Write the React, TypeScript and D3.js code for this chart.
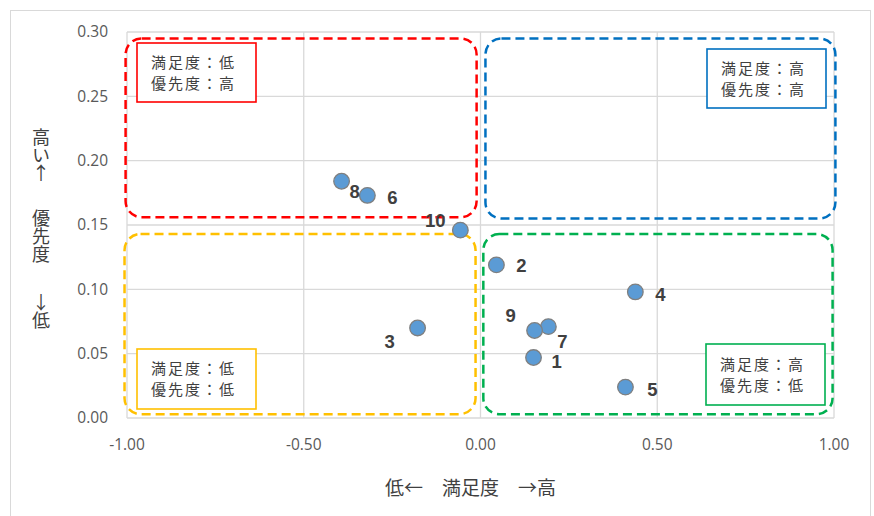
import React from 'react';
import { scaleLinear } from 'd3';

// 項目ごとの満足度(x)と優先度(y)
const ids = [1, 2, 3, 4, 5, 6, 7, 8, 9, 10];
const satisfaction = [0.15, 0.045, -0.178, 0.438, 0.41, -0.32, 0.192, -0.393, 0.153, -0.057];
const priority = [0.047, 0.119, 0.07, 0.098, 0.024, 0.173, 0.071, 0.184, 0.068, 0.146];

const xTicks = [-1, -0.5, 0, 0.5, 1];
const yTicks = [0, 0.05, 0.1, 0.15, 0.2, 0.25, 0.3];

// 象限の枠 (データ座標)
const quadrants = [
  { name: 'lowHigh', x0: -1.004, x1: -0.011, y0: 0.156, y1: 0.295, color: '#FF0000' },
  { name: 'highHigh', x0: 0.014, x1: 1.004, y0: 0.155, y1: 0.295, color: '#0070C0' },
  { name: 'lowLow', x0: -1.007, x1: -0.014, y0: 0.003, y1: 0.143, color: '#FFC000' },
  { name: 'highLow', x0: 0.008, x1: 0.996, y0: 0.003, y1: 0.143, color: '#00B050' },
];

const quadrantNotes = [
  { lines: ['満足度：低', '優先度：高'], color: '#FF0000', box: [137, 43, 256, 102] },
  { lines: ['満足度：高', '優先度：高'], color: '#0070C0', box: [707, 49, 826, 108] },
  { lines: ['満足度：低', '優先度：低'], color: '#FFC000', box: [137, 349, 256, 409] },
  { lines: ['満足度：高', '優先度：低'], color: '#00B050', box: [706, 344, 825, 405] },
];

// ラベルの位置 (点からのずれ, px)
const labelOffset: Record<number, [number, number]> = {
  1: [23, 4],
  2: [25, 1],
  3: [-28, 14],
  4: [25, 3],
  5: [27, 2],
  6: [25, 2],
  7: [14, 15],
  8: [13, 10],
  9: [-24, -15],
  10: [-25, -10],
};

const W = 874;
const H = 516;
const margin = { left: 127, right: 40, top: 32, bottom: 98 };

export default function App() {
  const x = scaleLinear().domain([-1, 1]).range([margin.left, W - margin.right]);
  const y = scaleLinear().domain([0, 0.3]).range([H - margin.bottom, margin.top]);

  const tickFont = '"Open Sans", "Noto Sans", sans-serif';
  const jpFont = '"Noto Sans CJK JP", sans-serif';
  const vertical = { writingMode: 'vertical-rl', textOrientation: 'upright' } as React.CSSProperties;

  return (
    <svg width={W} height={H} style={{ position: 'fixed', left: 0, top: 0, background: '#fff' }}>
      <rect x={10.5} y={10.5} width={860} height={520} fill="#fff" stroke="#d9d9d9" />

      {/* グリッド */}
      {yTicks.map((t) => (
        <line key={'gy' + t} x1={x(-1)} x2={x(1)} y1={y(t)} y2={y(t)} stroke="#d9d9d9" strokeWidth={1.3} />
      ))}
      {xTicks.map((t) => (
        <line key={'gx' + t} x1={x(t)} x2={x(t)} y1={y(0)} y2={y(0.3)} stroke="#d9d9d9" strokeWidth={1.3} />
      ))}

      {/* 目盛りラベル */}
      {yTicks.map((t) => (
        <text key={'ty' + t} x={x(-1) - 19} y={y(t)} dy="0.35em" textAnchor="end"
          fontFamily={tickFont} fontSize={15.5} fill="#595959">
          {t.toFixed(2)}
        </text>
      ))}
      {xTicks.map((t) => (
        <text key={'tx' + t} x={x(t)} y={y(0) + 27} dy="0.35em" textAnchor="middle"
          fontFamily={tickFont} fontSize={15.5} fill="#595959">
          {t.toFixed(2)}
        </text>
      ))}

      {/* 象限の枠 */}
      {quadrants.map((q) => (
        <rect key={q.name} x={x(q.x0)} y={y(q.y1)} width={x(q.x1) - x(q.x0)} height={y(q.y0) - y(q.y1)}
          rx={16} ry={16} fill="none" stroke={q.color} strokeWidth={2.5} strokeDasharray="9 5" />
      ))}

      {quadrantNotes.map((n, i) => (
        <g key={'note' + i}>
          <rect x={n.box[0]} y={n.box[1]} width={n.box[2] - n.box[0]} height={n.box[3] - n.box[1]}
            fill="#fff" stroke={n.color} strokeWidth={1.6} />
          {n.lines.map((l, j) => (
            <text key={j} x={n.box[0] + 14} y={(n.box[1] + n.box[3]) / 2 + (j === 0 ? -10 : 11)} dy="0.35em"
              fontFamily={jpFont} fontSize={15} letterSpacing={2} fill="#404040">
              {l}
            </text>
          ))}
        </g>
      ))}

      {/* 点 */}
      {ids.map((id, i) => (
        <circle key={'p' + id} cx={x(satisfaction[i])} cy={y(priority[i])} r={7.8}
          fill="#5B9BD5" stroke="#7f7f7f" strokeWidth={1.3} />
      ))}
      {ids.map((id, i) => (
        <text key={'l' + id} x={x(satisfaction[i]) + labelOffset[id][0]} y={y(priority[i]) + labelOffset[id][1]}
          dy="0.35em" textAnchor="middle" fontFamily='"Liberation Sans", Arial, sans-serif'
          fontWeight="bold" fontSize={18.5} fill="#404040">
          {id}
        </text>
      ))}

      {/* 軸タイトル */}
      <text x={x(0) - 10} y={488} dy="0.35em" textAnchor="middle" fontFamily={jpFont} fontSize={19} fill="#404040"
        style={{ whiteSpace: 'pre' }}>
        {'低←　満足度　→高'}
      </text>
      <g fontFamily={jpFont} fontSize={18} fill="#404040">
        <text x={41} y={128} style={vertical}>高い↑</text>
        <text x={41} y={209} style={vertical}>優先度</text>
        <text x={41} y={293} style={vertical}>↓低</text>
      </g>
    </svg>
  );
}
